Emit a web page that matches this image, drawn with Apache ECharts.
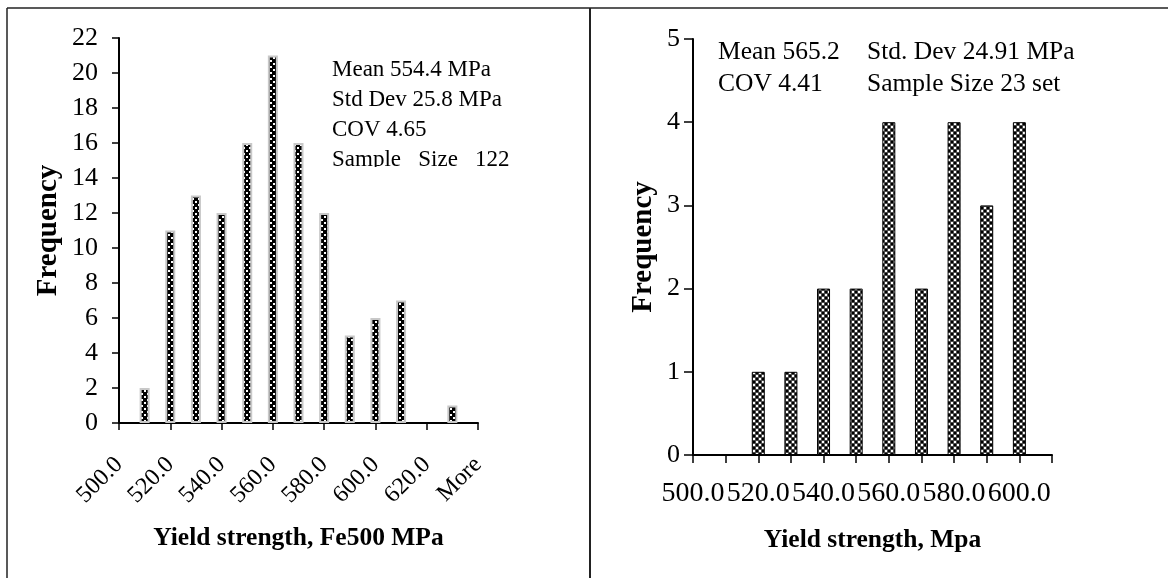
<!DOCTYPE html>
<html>
<head>
<meta charset="utf-8">
<title>Yield strength histograms</title>
<script src="https://cdn.jsdelivr.net/npm/echarts@6/dist/echarts.min.js"></script>
<style>
  html, body { margin: 0; padding: 0; background: #fff; }
  #chart { width: 1168px; height: 578px; }
</style>
</head>
<body>
<div id="chart"></div>
<script>
// left panel: Fe500 bars, 122 samples
var leftBins = ['500.0','510.0','520.0','530.0','540.0','550.0','560.0','570.0','580.0','590.0','600.0','610.0','620.0','630.0','More'];
var leftFreq = [0, 2, 11, 13, 12, 16, 21, 16, 12, 5, 6, 7, 0, 1, 0];
var leftStats = ['Mean 554.4 MPa', 'Std Dev 25.8 MPa', 'COV 4.65', 'Sample   Size   122'];

// right panel: 23 sets
var rightBins = ['500.0','510.0','520.0','530.0','540.0','550.0','560.0','570.0','580.0','590.0','600.0','More'];
var rightFreq = [0, 0, 1, 1, 2, 2, 4, 2, 4, 3, 4, 0];
var rightStats = [['Mean 565.2', 'Std. Dev 24.91 MPa'], ['COV 4.41', 'Sample Size 23 set']];

var serif = '"Liberation Serif", "Times New Roman", serif';

// hatch fills like the excel pattern fill
function makePattern(bg, dark, light){
  var c = document.createElement('canvas');
  c.width = 6; c.height = 6;
  var ctx = c.getContext('2d');
  ctx.fillStyle = bg;
  ctx.fillRect(0, 0, 6, 6);
  ctx.fillStyle = dark;
  ctx.fillRect(0, 0, 2, 2);
  ctx.fillRect(3, 3, 2, 2);
  if(light){
    ctx.fillStyle = light;
    ctx.fillRect(3, 0, 2, 2);
    ctx.fillRect(0, 3, 2, 2);
  }
  return { image: c, repeat: 'repeat' };
}
var leftFill = makePattern('#000', '#fff');
var rightFill = makePattern('#4a4a4a', '#000', '#fff');

function zeroToGap(v){ return v === 0 ? '-' : v; }

var myChart = echarts.init(document.getElementById('chart'), null, { renderer: 'canvas' });

var graphics = [
  { type: 'line', shape: { x1: 7, y1: 8, x2: 1168, y2: 8 }, style: { stroke: '#222', lineWidth: 1.5 } },
  { type: 'line', shape: { x1: 7, y1: 8, x2: 7, y2: 578 }, style: { stroke: '#222', lineWidth: 1.5 } },
  { type: 'line', shape: { x1: 590, y1: 8, x2: 590, y2: 578 }, style: { stroke: '#222', lineWidth: 2 } }
];
leftStats.forEach(function(t, i){
  graphics.push({ type: 'text', left: 332, top: 58 + i * 30,
    style: { text: t, font: '23px ' + serif, fill: '#000' } });
});
// the last stats line is cut off in the original text box
graphics.push({ type: 'rect', shape: { x: 328, y: 167, width: 200, height: 12 }, style: { fill: '#fff' }, z: 100 });
rightStats.forEach(function(row, i){
  graphics.push({ type: 'text', left: 718, top: 39 + i * 32,
    style: { text: row[0], font: '25.5px ' + serif, fill: '#000' } });
  graphics.push({ type: 'text', left: 867, top: 39 + i * 32,
    style: { text: row[1], font: '25.5px ' + serif, fill: '#000' } });
});

var option = {
  animation: false,
  backgroundColor: '#fff',
  graphic: graphics,
  grid: [
    { left: 119, top: 38, width: 359, height: 385 },
    { left: 693, top: 39, width: 359, height: 416 }
  ],
  xAxis: [
    {
      type: 'category', gridIndex: 0, data: leftBins, boundaryGap: false,
      axisLine: { lineStyle: { color: '#000', width: 2 } },
      axisTick: { show: true, interval: 1, length: 7, lineStyle: { color: '#000', width: 1.5 } },
      axisLabel: { interval: 1, rotate: 45, margin: 38, fontSize: 24, fontFamily: serif, color: '#000' },
      splitLine: { show: false },
      name: 'Yield strength, Fe500 MPa', nameLocation: 'middle', nameGap: 102,
      nameTextStyle: { fontSize: 25.5, fontWeight: 'bold', fontFamily: serif, color: '#000' }
    },
    {
      type: 'category', gridIndex: 1, data: rightBins, boundaryGap: false,
      axisLine: { lineStyle: { color: '#000', width: 2 } },
      axisTick: { show: true, interval: 0, length: 8, lineStyle: { color: '#000', width: 1.5 } },
      axisLabel: { interval: 1, margin: 25, fontSize: 28, fontFamily: serif, color: '#000' },
      splitLine: { show: false },
      name: 'Yield strength, Mpa', nameLocation: 'middle', nameGap: 72,
      nameTextStyle: { fontSize: 25.5, fontWeight: 'bold', fontFamily: serif, color: '#000' }
    }
  ],
  yAxis: [
    {
      type: 'value', gridIndex: 0, min: 0, max: 22, interval: 2,
      axisLine: { show: true, lineStyle: { color: '#000', width: 2 } },
      axisTick: { show: true, length: 7, lineStyle: { color: '#000', width: 1.5 } },
      axisLabel: { margin: 21, fontSize: 26, fontFamily: serif, color: '#000' },
      splitLine: { show: false },
      name: 'Frequency', nameLocation: 'middle', nameGap: 56,
      nameTextStyle: { fontSize: 29, fontWeight: 'bold', fontFamily: serif, color: '#000' }
    },
    {
      type: 'value', gridIndex: 1, min: 0, max: 5, interval: 1,
      axisLine: { show: true, lineStyle: { color: '#000', width: 2 } },
      axisTick: { show: true, length: 9, lineStyle: { color: '#000', width: 1.5 } },
      axisLabel: { margin: 13, fontSize: 26, fontFamily: serif, color: '#000' },
      splitLine: { show: false },
      name: 'Frequency', nameLocation: 'middle', nameGap: 35,
      nameTextStyle: { fontSize: 29, fontWeight: 'bold', fontFamily: serif, color: '#000' }
    }
  ],
  series: [
    {
      type: 'bar', xAxisIndex: 0, yAxisIndex: 0, barWidth: 10,
      data: leftFreq.map(zeroToGap),
      itemStyle: { color: leftFill, borderColor: '#c8c8c8', borderWidth: 2 }
    },
    {
      type: 'bar', xAxisIndex: 1, yAxisIndex: 1, barWidth: 13,
      data: rightFreq.map(zeroToGap),
      itemStyle: { color: rightFill, borderColor: '#000', borderWidth: 1 }
    }
  ]
};
myChart.setOption(option);
</script>
</body>
</html>
